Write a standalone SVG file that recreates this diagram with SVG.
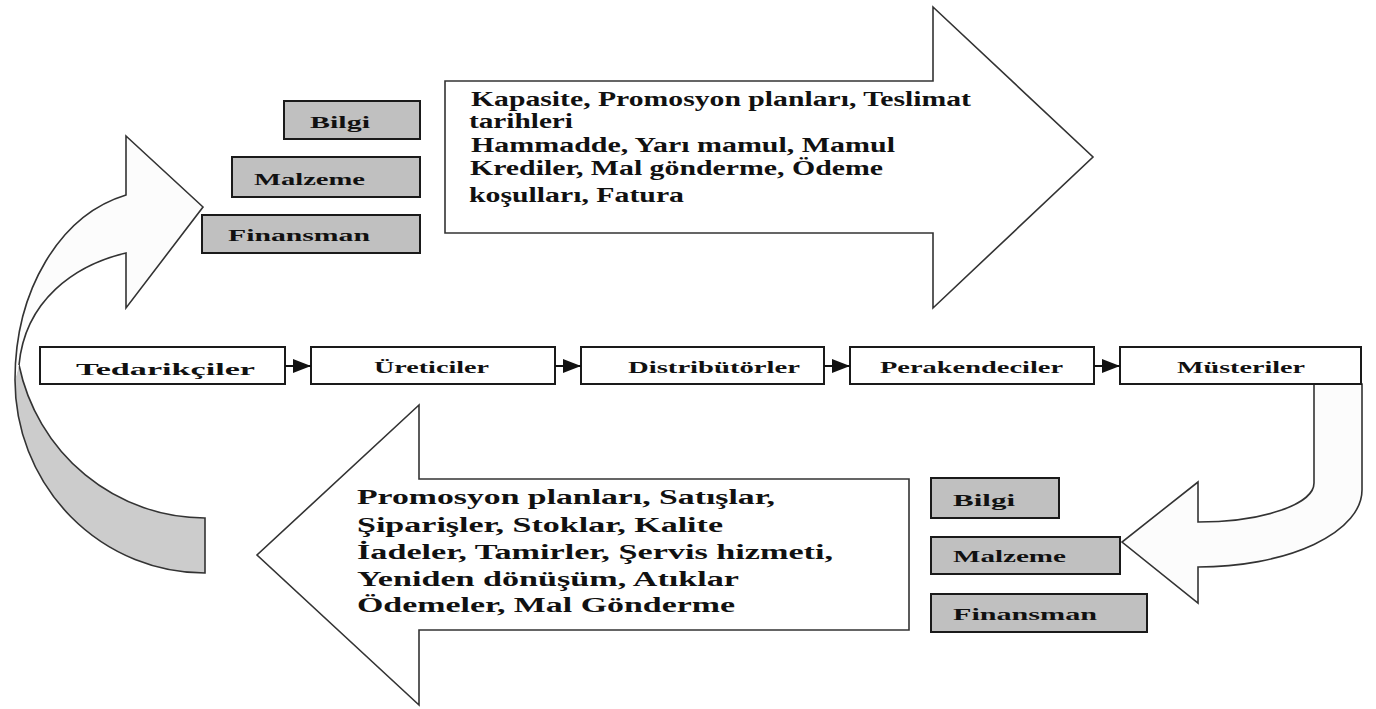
<svg xmlns="http://www.w3.org/2000/svg" width="1376" height="709" viewBox="0 0 1376 709">
<style>
  .t { font-family: "Liberation Serif", "Times New Roman", serif; font-weight: bold; fill: #111; }
  .big { font-size: 20px; }
  .lbl { font-size: 17px; }
  .box { fill: #ffffff; stroke: #1a1a1a; stroke-width: 2; }
  .gbox { fill: #c0c0c0; stroke: #1a1a1a; stroke-width: 2; }
  .shape { fill: #ffffff; stroke: #333; stroke-width: 1.6; stroke-linejoin: miter; }
  .band { fill: #fcfcfc; stroke: #333; stroke-width: 1.6; }
  .fillw { fill: #fcfcfc; stroke: none; }
  .fillg { fill: #cccccc; stroke: none; }
  .edge { fill: none; stroke: #333; stroke-width: 1.6; }
  .conn { fill: none; stroke: #111; stroke-width: 2; }
</style>
<defs>
  <marker id="ah" markerUnits="userSpaceOnUse" markerWidth="18" markerHeight="14" refX="18" refY="7" orient="auto">
    <path d="M0,0 L18,7 L0,14 Z" fill="#111"/>
  </marker>
</defs>
<rect width="1376" height="709" fill="#ffffff"/>

<!-- left curved arrow -->
<g id="curved-arrow-left">
  <path class="fillg" d="M15,380 A190,193 0 0 0 205,573 L205,518 A190,193 0 0 1 19,365 Z"/>
  <path class="edge" d="M15,380 A190,193 0 0 0 205,573 L205,518 A190,193 0 0 1 19,365"/>
  <path class="fillw" d="M15,380 C15,290 60,215 126,195 L126,136 L203,207 L126,308 L126,253 C75,265 25,300 19,365 Z"/>
  <path class="edge" d="M15,380 C15,290 60,215 126,195 L126,136 L203,207 L126,308 L126,253 C75,265 25,300 19,365"/>
</g>

<!-- top big arrow -->
<g id="arrow-top">
  <polygon class="shape" points="445,81 933,81 933,7 1093,157 933,308 933,233 445,233"/>
  <text class="t big" x="471" y="106" textLength="500" lengthAdjust="spacingAndGlyphs">Kapasite, Promosyon planları, Teslimat</text>
  <text class="t big" x="469" y="128" textLength="104" lengthAdjust="spacingAndGlyphs">tarihleri</text>
  <text class="t big" x="471" y="152" textLength="424" lengthAdjust="spacingAndGlyphs">Hammadde, Yarı mamul, Mamul</text>
  <text class="t big" x="470" y="175" textLength="413" lengthAdjust="spacingAndGlyphs">Krediler, Mal gönderme, Ödeme</text>
  <text class="t big" x="469" y="202" textLength="215" lengthAdjust="spacingAndGlyphs">koşulları, Fatura</text>
</g>

<!-- bottom big arrow -->
<g id="arrow-bottom">
  <polygon class="shape" points="909,479 419,479 419,405 257,555 419,705 419,630 909,630"/>
  <text class="t big" x="357" y="504" textLength="418" lengthAdjust="spacingAndGlyphs">Promosyon planları, Satışlar,</text>
  <text class="t big" x="357" y="532" textLength="366" lengthAdjust="spacingAndGlyphs">Şiparişler, Stoklar, Kalite</text>
  <text class="t big" x="357" y="559" textLength="476" lengthAdjust="spacingAndGlyphs">İadeler, Tamirler, Şervis hizmeti,</text>
  <text class="t big" x="357" y="586" textLength="382" lengthAdjust="spacingAndGlyphs">Yeniden dönüşüm, Atıklar</text>
  <text class="t big" x="357" y="612" textLength="378" lengthAdjust="spacingAndGlyphs">Ödemeler, Mal Gönderme</text>
</g>

<!-- right curved arrow -->
<g id="curved-arrow-right">
  <path class="band" d="M1314,384 L1314,483 A116,39 0 0 1 1198,522 L1198,482 L1122,542 L1198,603 L1198,567 A164,77 0 0 0 1362,490 L1362,384 Z"/>
</g>

<!-- top gray boxes -->
<g id="top-bilgi">
  <rect class="gbox" x="284" y="101" width="136" height="38"/>
  <text class="t lbl" x="310" y="128" textLength="60" lengthAdjust="spacingAndGlyphs">Bilgi</text>
</g>
<g id="top-malzeme">
  <rect class="gbox" x="232" y="157" width="188" height="40"/>
  <text class="t lbl" x="254" y="185" textLength="111" lengthAdjust="spacingAndGlyphs">Malzeme</text>
</g>
<g id="top-finansman">
  <rect class="gbox" x="202" y="215" width="218" height="38"/>
  <text class="t lbl" x="228" y="241" textLength="142" lengthAdjust="spacingAndGlyphs">Finansman</text>
</g>

<!-- bottom gray boxes -->
<g id="bottom-bilgi">
  <rect class="gbox" x="931" y="478" width="128" height="40"/>
  <text class="t lbl" x="953" y="506" textLength="62" lengthAdjust="spacingAndGlyphs">Bilgi</text>
</g>
<g id="bottom-malzeme">
  <rect class="gbox" x="931" y="537" width="189" height="37"/>
  <text class="t lbl" x="953" y="562" textLength="113" lengthAdjust="spacingAndGlyphs">Malzeme</text>
</g>
<g id="bottom-finansman">
  <rect class="gbox" x="931" y="594" width="216" height="38"/>
  <text class="t lbl" x="953" y="620" textLength="144" lengthAdjust="spacingAndGlyphs">Finansman</text>
</g>

<!-- chain nodes -->
<g id="node-tedarikciler">
  <rect class="box" x="40" y="347" width="245" height="37"/>
  <text class="t lbl" x="76" y="375" textLength="179" lengthAdjust="spacingAndGlyphs">Tedarikçiler</text>
</g>
<g id="node-ureticiler">
  <rect class="box" x="311" y="347" width="244" height="37"/>
  <text class="t lbl" x="374" y="373" textLength="115" lengthAdjust="spacingAndGlyphs">Üreticiler</text>
</g>
<g id="node-distributorler">
  <rect class="box" x="581" y="347" width="243" height="37"/>
  <text class="t lbl" x="628" y="373" textLength="172" lengthAdjust="spacingAndGlyphs">Distribütörler</text>
</g>
<g id="node-perakendeciler">
  <rect class="box" x="850" y="347" width="244" height="37"/>
  <text class="t lbl" x="880" y="373" textLength="183" lengthAdjust="spacingAndGlyphs">Perakendeciler</text>
</g>
<g id="node-musteriler">
  <rect class="box" x="1120" y="347" width="241" height="37"/>
  <text class="t lbl" x="1177" y="373" textLength="128" lengthAdjust="spacingAndGlyphs">Müsteriler</text>
</g>

<!-- connectors -->
<g id="connectors">
  <path class="conn" d="M285,366 L311,366" marker-end="url(#ah)"/>
  <path class="conn" d="M555,366 L581,366" marker-end="url(#ah)"/>
  <path class="conn" d="M824,366 L850,366" marker-end="url(#ah)"/>
  <path class="conn" d="M1094,366 L1120,366" marker-end="url(#ah)"/>
</g>
</svg>
